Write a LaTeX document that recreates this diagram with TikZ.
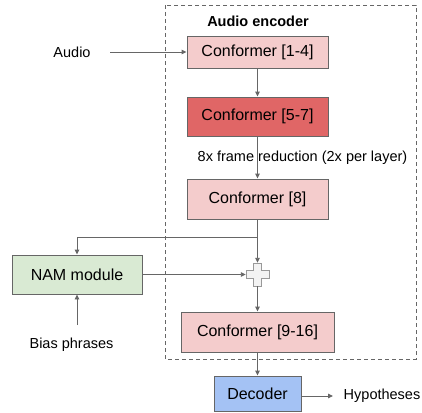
\documentclass[tikz,border=0pt]{standalone}
\usepackage{fontspec}
\setmainfont{Liberation Sans}
\usetikzlibrary{arrows.meta,calc}
\definecolor{lred}{HTML}{F4CCCC}
\definecolor{dred}{HTML}{E06666}
\definecolor{lgreen}{HTML}{D9EAD3}
\definecolor{lblue}{HTML}{A4C2F4}
\definecolor{edge}{HTML}{666666}
\definecolor{lnk}{HTML}{666666}
\definecolor{plusfill}{HTML}{F3F3F3}
\definecolor{plusedge}{HTML}{999999}
\tikzset{
  blk/.style={draw=edge, line width=0.9pt, rectangle, inner sep=0pt, font=\fontsize{16}{19}\selectfont},
  lbl/.style={inner sep=0pt, font=\fontsize{14.5}{17}\selectfont},
  arr/.style={draw=lnk, line width=0.9pt, -{Triangle[length=5pt,width=4.5pt]}},
  ln/.style={draw=lnk, line width=0.9pt},
}
\begin{document}
\begin{tikzpicture}[x=1pt,y=-1pt]
\useasboundingbox (0,0) rectangle (422,412);
% encoder dashed box
\draw[draw=edge, line width=0.8pt, dash pattern=on 4pt off 3pt] (165,5) rectangle (416,359);
\node[lbl, font=\fontsize{14.5}{17}\selectfont\bfseries] (title) at (258,21) {Audio encoder};
% blocks
\node[blk, fill=lred, minimum width=141pt, minimum height=32pt] (c14) at (257.5,52) {Conformer [1-4]};
\node[blk, fill=dred, minimum width=141pt, minimum height=39pt] (c57) at (257.5,116.5) {Conformer [5-7]};
\node[blk, fill=lred, minimum width=141pt, minimum height=40pt] (c8) at (257.5,199) {Conformer [8]};
\node[blk, fill=lgreen, minimum width=130pt, minimum height=39pt] (nam) at (77,274.5) {NAM module};
\node[blk, fill=lred, minimum width=153pt, minimum height=40pt] (c916) at (257.5,332) {Conformer [9-16]};
\node[blk, fill=lblue, minimum width=87pt, minimum height=35pt] (dec) at (257.5,393.5) {Decoder};
% labels
\node[lbl] (audio) at (72,52) {Audio};
\node[lbl] (bias) at (71.5,345) {Bias phrases};
\node[lbl] (hyp) at (382,396) {Hypotheses};
\node[lbl, fill=none] (red) at (302.5,158) {8x frame reduction (2x per layer)};
% plus junction
\coordinate (pc) at (257.5,274.5);
\node[inner sep=0pt, minimum size=23pt] (plus) at (pc) {};
\draw[fill=plusfill, draw=plusedge, line width=0.8pt]
  ($(pc)+(-4,-11.5)$) -- ($(pc)+(4,-11.5)$) -- ($(pc)+(4,-4)$) -- ($(pc)+(11.5,-4)$)
  -- ($(pc)+(11.5,4)$) -- ($(pc)+(4,4)$) -- ($(pc)+(4,11.5)$) -- ($(pc)+(-4,11.5)$)
  -- ($(pc)+(-4,4)$) -- ($(pc)+(-11.5,4)$) -- ($(pc)+(-11.5,-4)$) -- ($(pc)+(-4,-4)$) -- cycle;
% connectors
\coordinate (ain) at (110,52);
\draw[arr] (ain) -- (c14.west);
\draw[arr] (c14.south) -- (c57.north);
\draw[arr] (c57.south) -- (c8.north);
\coordinate (split) at (257.5,237);
\draw[ln] (c8.south) -- (split);
\draw[arr] (split) -| (nam.north);
\draw[arr] (split) -- (plus.north);
\draw[arr] (nam.east) -- (plus.west);
\draw[arr] (plus.south) -- (c916.north);
\coordinate (bin) at (77,325);
\draw[arr] (bin) -- (nam.south);
\draw[arr] (c916.south) -- (dec.north);
\coordinate (hout) at (333,396);
\draw[arr] (dec.east |- hout) -- (hout);
\end{tikzpicture}
\end{document}
